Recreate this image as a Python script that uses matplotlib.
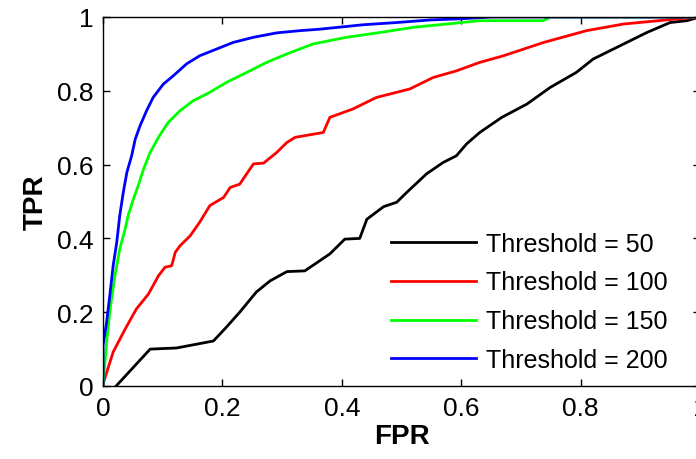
import numpy as np
import matplotlib
matplotlib.use("Agg")
import matplotlib.pyplot as plt

plt.rcParams['font.family'] = ['Liberation Sans', 'DejaVu Sans']

# ROC curves (FPR, TPR)
fpr_50 = [0.022, 0.079, 0.123, 0.185, 0.207, 0.229, 0.257, 0.280, 0.308, 0.338,
          0.380, 0.405, 0.430, 0.442, 0.470, 0.492, 0.509, 0.542, 0.570, 0.592, 0.609,
          0.631, 0.668, 0.710, 0.749, 0.793, 0.821, 0.866, 0.911, 0.950, 0.978, 1.0]
tpr_50 = [0.0, 0.100, 0.103, 0.122, 0.160, 0.200, 0.255, 0.285, 0.310, 0.312,
          0.358, 0.398, 0.400, 0.452, 0.486, 0.498, 0.525, 0.575, 0.606, 0.624, 0.656,
          0.687, 0.728, 0.764, 0.809, 0.850, 0.886, 0.922, 0.958, 0.985, 0.990, 1.0]

fpr_100 = [0.0, 0.017, 0.037, 0.056, 0.076, 0.093, 0.104, 0.115, 0.121, 0.129, 0.146,
           0.162, 0.179, 0.202, 0.213, 0.229, 0.252, 0.269, 0.291, 0.308, 0.322, 0.369,
           0.380, 0.419, 0.458, 0.514, 0.553, 0.592, 0.631, 0.671, 0.738, 0.810, 0.872,
           0.911, 0.950, 1.0]
tpr_100 = [0.005, 0.092, 0.154, 0.209, 0.249, 0.299, 0.322, 0.326, 0.362, 0.380, 0.407,
           0.444, 0.489, 0.511, 0.538, 0.547, 0.602, 0.604, 0.633, 0.660, 0.674, 0.687,
           0.728, 0.751, 0.782, 0.805, 0.836, 0.854, 0.877, 0.895, 0.931, 0.963, 0.981,
           0.987, 0.993, 1.0]

fpr_150 = [0.0, 0.006, 0.012, 0.020, 0.028, 0.037, 0.042, 0.051, 0.059, 0.068, 0.079,
           0.093, 0.109, 0.129, 0.151, 0.179, 0.207, 0.241, 0.274, 0.308, 0.352, 0.408,
           0.464, 0.520, 0.576, 0.631, 0.737, 0.75, 1.0]
tpr_150 = [0.0, 0.118, 0.209, 0.299, 0.371, 0.425, 0.461, 0.507, 0.543, 0.588, 0.633,
           0.674, 0.714, 0.746, 0.773, 0.796, 0.823, 0.850, 0.877, 0.900, 0.927, 0.945,
           0.958, 0.972, 0.981, 0.990, 0.990, 1.0, 1.0]

fpr_200 = [0.0, 0.0, 0.006, 0.012, 0.017, 0.023, 0.028, 0.034, 0.040, 0.048, 0.054,
           0.062, 0.073, 0.084, 0.101, 0.118, 0.140, 0.162, 0.190, 0.218, 0.252, 0.291,
           0.330, 0.363, 0.436, 0.492, 0.548, 0.598, 0.65, 1.0]
tpr_200 = [0.0, 0.109, 0.172, 0.254, 0.326, 0.389, 0.461, 0.525, 0.579, 0.624, 0.669,
           0.705, 0.746, 0.782, 0.818, 0.841, 0.873, 0.895, 0.913, 0.931, 0.945, 0.957,
           0.963, 0.967, 0.979, 0.985, 0.992, 0.995, 1.0, 1.0]

labels = ['Threshold = 50', 'Threshold = 100', 'Threshold = 150', 'Threshold = 200']
colors = ['#000000', '#ff0000', '#00ff00', '#0000ff']
ticks = [0, 0.2, 0.4, 0.6, 0.8, 1]
tick_labels = ['0', '0.2', '0.4', '0.6', '0.8', '1']

fig = plt.figure(figsize=(6.96, 4.6), dpi=100)
W, H = 696, 460
# axes box runs slightly past the right edge, as in the reference
ax = fig.add_axes([103 / W, 1 - 387 / H, 597 / W, 369 / H])

ax.plot(fpr_50, tpr_50, color=colors[0], lw=2, label=labels[0])
ax.plot(fpr_100, tpr_100, color=colors[1], lw=2, label=labels[1])
ax.plot(fpr_150, tpr_150, color=colors[2], lw=2, label=labels[2])
ax.plot(fpr_200, tpr_200, color=colors[3], lw=2, label=labels[3])

ax.set_xlim(0, 1)
ax.set_ylim(0, 1)
ax.set_xticks(ticks)
ax.set_xticklabels(tick_labels)
ax.set_yticks(ticks)
ax.set_yticklabels(tick_labels)
ax.tick_params(direction='in', top=True, right=True, length=5, width=1,
               labelsize=19, pad=7)
for s in ax.spines.values():
    s.set_linewidth(1)

ax.set_xlabel('FPR', fontsize=20, fontweight='bold', labelpad=2)
ax.set_ylabel('TPR', fontsize=20, fontweight='bold', labelpad=6)

ax.legend(loc='lower right', bbox_to_anchor=(668 / W, 1 - 373 / H),
          bbox_transform=fig.transFigure, frameon=False, fontsize=18,
          handlelength=3.4, handletextpad=0.4, labelspacing=0.59, borderpad=0,
          borderaxespad=0)

fig.savefig('out.png', dpi=100)
